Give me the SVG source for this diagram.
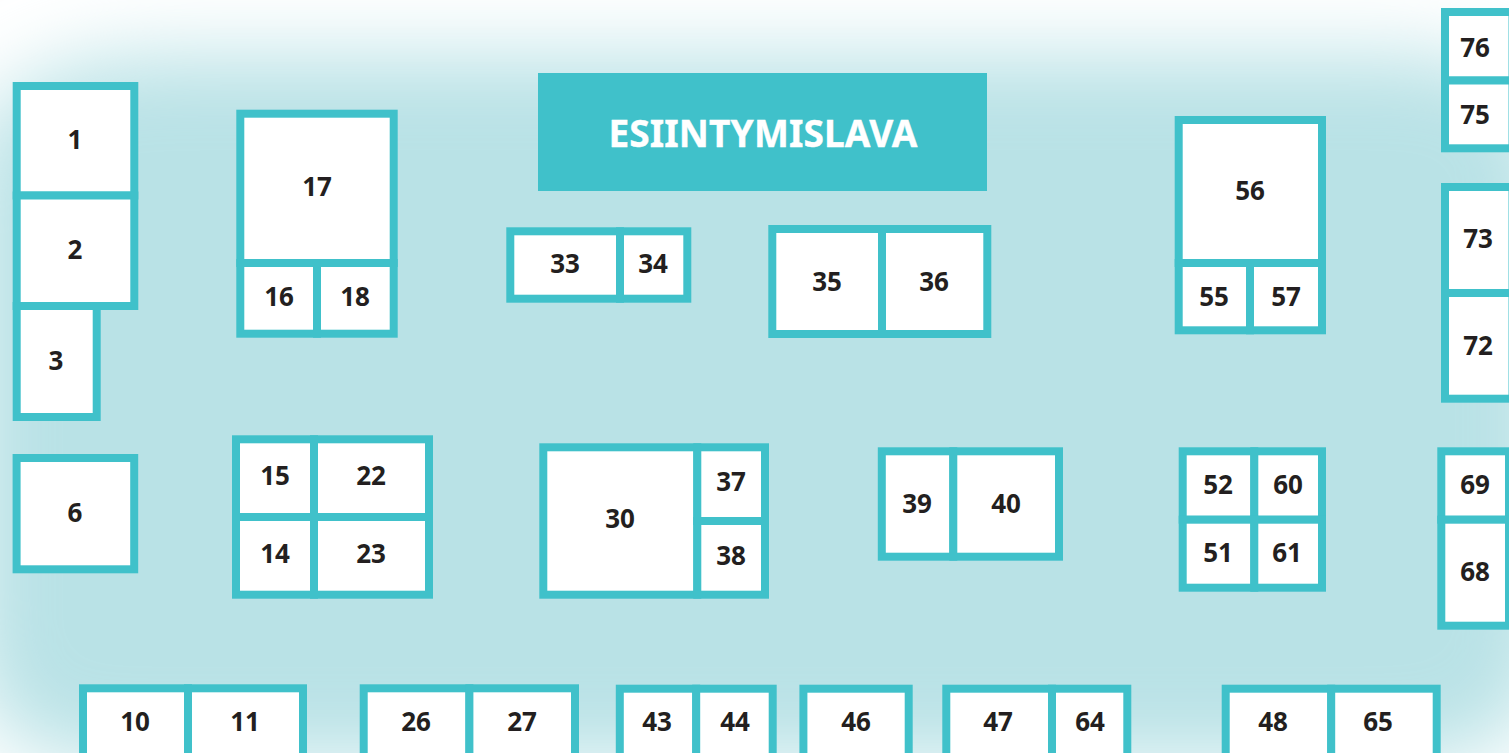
<svg xmlns="http://www.w3.org/2000/svg" width="1509" height="753" viewBox="0 0 1509 753">
<style>
.b{fill:#fff;stroke:#40c1ca;stroke-width:8}
.t{font-family:"Noto Sans","Open Sans",sans-serif;font-weight:700;font-size:26px;fill:#231f20;text-anchor:middle}
.s{font-family:"Noto Sans","Open Sans",sans-serif;font-weight:700;font-size:37px;letter-spacing:.15px;fill:#fff;text-anchor:middle;stroke:#fff;stroke-width:.4}
</style>
<defs><filter id="blur" filterUnits="userSpaceOnUse" x="-300" y="-300" width="2100" height="1400"><feGaussianBlur stdDeviation="40"/></filter></defs>
<rect width="1509" height="753" fill="#fff"/>
<path d="M170 55H1410Q1550 55 1550 195V625Q1550 762 1405 762H110Q-32 762 -32 625V195Q-32 55 170 55Z" fill="#b9e2e6" filter="url(#blur)"/>
<g id="stage"><rect x="538" y="73" width="449" height="118" fill="#40c1ca"/><text class="s" x="763" y="147">ESIINTYMISLAVA</text></g>
<g id="connectors"/>
<g id="n1"><rect class="b" x="16.7" y="86" width="117.6" height="109.5"/><text class="t" x="75" y="149">1</text></g>
<g id="n2"><rect class="b" x="16.7" y="195.5" width="117.6" height="110.5"/><text class="t" x="75" y="259">2</text></g>
<g id="n3"><rect class="b" x="16.7" y="306" width="80" height="111"/><text class="t" x="56" y="370">3</text></g>
<g id="n6"><rect class="b" x="16.6" y="458" width="117.6" height="111.3"/><text class="t" x="75" y="522">6</text></g>
<g id="n17"><rect class="b" x="240.3" y="113.7" width="153.4" height="149.3"/><text class="t" x="317" y="196">17</text></g>
<g id="n16"><rect class="b" x="240.3" y="263" width="76.7" height="70.7"/><text class="t" x="279" y="306">16</text></g>
<g id="n18"><rect class="b" x="317" y="263" width="76.7" height="70.7"/><text class="t" x="355" y="306">18</text></g>
<g id="n15"><rect class="b" x="236" y="439.3" width="78" height="77.7"/><text class="t" x="275" y="485">15</text></g>
<g id="n22"><rect class="b" x="314" y="439.3" width="115" height="77.7"/><text class="t" x="371" y="485">22</text></g>
<g id="n14"><rect class="b" x="236" y="517" width="78" height="77.7"/><text class="t" x="275" y="563">14</text></g>
<g id="n23"><rect class="b" x="314" y="517" width="115" height="77.7"/><text class="t" x="371" y="563">23</text></g>
<g id="n33"><rect class="b" x="510.3" y="231.3" width="109.7" height="67.4"/><text class="t" x="565" y="273">33</text></g>
<g id="n34"><rect class="b" x="620" y="231.3" width="67.3" height="67.4"/><text class="t" x="653" y="273">34</text></g>
<g id="n35"><rect class="b" x="772.3" y="229" width="109.7" height="105"/><text class="t" x="827" y="291">35</text></g>
<g id="n36"><rect class="b" x="882" y="229" width="105.3" height="105"/><text class="t" x="934" y="291">36</text></g>
<g id="n30"><rect class="b" x="543.3" y="447.3" width="154" height="147.4"/><text class="t" x="620" y="528">30</text></g>
<g id="n37"><rect class="b" x="697.3" y="447.3" width="67.7" height="73.7"/><text class="t" x="731" y="491">37</text></g>
<g id="n38"><rect class="b" x="697.3" y="521" width="67.7" height="73.7"/><text class="t" x="731" y="565">38</text></g>
<g id="n39"><rect class="b" x="881.8" y="451.3" width="71.5" height="105.4"/><text class="t" x="917" y="513">39</text></g>
<g id="n40"><rect class="b" x="953.3" y="451.3" width="105.7" height="105.4"/><text class="t" x="1006" y="513">40</text></g>
<g id="n56"><rect class="b" x="1178.7" y="120" width="143.3" height="143"/><text class="t" x="1250" y="200">56</text></g>
<g id="n55"><rect class="b" x="1178.7" y="263" width="71.3" height="67.3"/><text class="t" x="1214" y="306">55</text></g>
<g id="n57"><rect class="b" x="1250" y="263" width="72" height="67.3"/><text class="t" x="1286" y="305.5">57</text></g>
<g id="n52"><rect class="b" x="1182.7" y="451.3" width="71.6" height="68.4"/><text class="t" x="1218" y="494">52</text></g>
<g id="n60"><rect class="b" x="1254.3" y="451.3" width="67.7" height="68.4"/><text class="t" x="1288" y="494">60</text></g>
<g id="n51"><rect class="b" x="1182.7" y="519.7" width="71.6" height="68"/><text class="t" x="1218" y="562">51</text></g>
<g id="n61"><rect class="b" x="1254.3" y="519.7" width="67.7" height="68"/><text class="t" x="1287" y="562">61</text></g>
<g id="n76"><rect class="b" x="1445" y="12" width="67.5" height="68.5"/><text class="t" x="1475" y="57">76</text></g>
<g id="n75"><rect class="b" x="1445" y="80.5" width="67.5" height="67.8"/><text class="t" x="1475" y="124">75</text></g>
<g id="n73"><rect class="b" x="1445" y="187" width="67.5" height="106"/><text class="t" x="1478" y="248">73</text></g>
<g id="n72"><rect class="b" x="1445" y="293" width="67.5" height="105.7"/><text class="t" x="1478" y="355">72</text></g>
<g id="n69"><rect class="b" x="1441.3" y="451.3" width="67.7" height="68.4"/><text class="t" x="1475" y="494">69</text></g>
<g id="n68"><rect class="b" x="1441.3" y="519.7" width="67.7" height="106"/><text class="t" x="1475" y="581">68</text></g>
<g id="n10"><rect class="b" x="83" y="688.3" width="105" height="70"/><text class="t" x="135" y="731">10</text></g>
<g id="n11"><rect class="b" x="188" y="688.3" width="115" height="70"/><text class="t" x="245" y="731">11</text></g>
<g id="n26"><rect class="b" x="363.7" y="688.3" width="105.7" height="70"/><text class="t" x="416" y="731">26</text></g>
<g id="n27"><rect class="b" x="469.4" y="688.3" width="105.6" height="70"/><text class="t" x="522" y="731">27</text></g>
<g id="n43"><rect class="b" x="619.8" y="688.7" width="76.4" height="70"/><text class="t" x="657" y="731">43</text></g>
<g id="n44"><rect class="b" x="696.2" y="688.7" width="76.5" height="70"/><text class="t" x="735" y="731">44</text></g>
<g id="n46"><rect class="b" x="803.4" y="688.7" width="105.3" height="70"/><text class="t" x="856" y="731">46</text></g>
<g id="n47"><rect class="b" x="946.3" y="688.7" width="105.7" height="70"/><text class="t" x="998" y="731">47</text></g>
<g id="n64"><rect class="b" x="1052" y="688.7" width="75.3" height="70"/><text class="t" x="1090" y="731">64</text></g>
<g id="n48"><rect class="b" x="1225.7" y="688.7" width="105.5" height="70"/><text class="t" x="1273" y="731">48</text></g>
<g id="n65"><rect class="b" x="1331.2" y="688.7" width="105.5" height="70"/><text class="t" x="1378" y="731">65</text></g>
</svg>
